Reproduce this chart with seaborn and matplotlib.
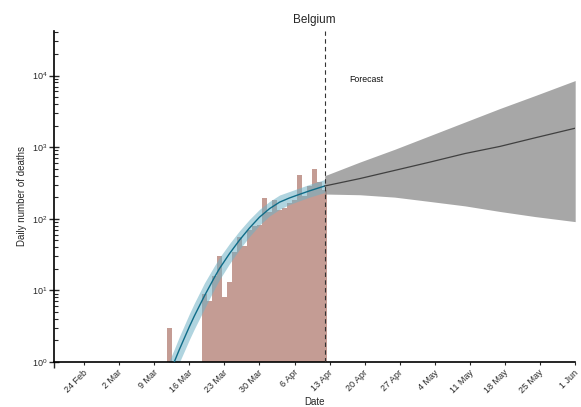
import numpy as np
import pandas as pd
import matplotlib
matplotlib.use("Agg")
import matplotlib.pyplot as plt
import matplotlib.dates as mdates
from matplotlib.ticker import LogLocator, NullFormatter
from matplotlib.transforms import ScaledTranslation
import seaborn as sns

# Reported daily deaths
death_dates = ["2020-03-12"] + list(pd.date_range("2020-03-19", "2020-04-12").strftime("%Y-%m-%d"))
deaths = [3,
          9, 7, 16, 30, 8, 13, 34, 56, 42, 69, 78, 82, 192,
          123, 183, 132, 140, 164, 185, 403, 205, 283, 496, 327, 254]

# Model fit (median and 95% band)
fit_dates = ["2020-03-11", "2020-03-12", "2020-03-13", "2020-03-14", "2020-03-15",
             "2020-03-16", "2020-03-17", "2020-03-18", "2020-03-19", "2020-03-20",
             "2020-03-21", "2020-03-22", "2020-03-24", "2020-03-26", "2020-03-28",
             "2020-03-30", "2020-04-01", "2020-04-03", "2020-04-05", "2020-04-07",
             "2020-04-09", "2020-04-12"]
fit_mid = [0.46, 0.68, 1.0, 1.48, 2.14, 3.09, 4.37, 6.03, 8.3, 11.2,
           15.1, 20.0, 32.4, 50.1, 74.1, 105, 138, 170, 195, 219, 245, 286]
fit_lo = [0.30, 0.45, 0.66, 0.98, 1.41, 2.04, 2.88, 3.98, 5.5, 7.6,
          10.4, 14.0, 23.4, 37.2, 56.2, 81.3, 109, 135, 158, 178, 200, 232]
fit_hi = [0.70, 1.03, 1.51, 2.24, 3.24, 4.68, 6.61, 9.12, 12.6, 16.6,
          21.9, 28.5, 44.7, 67.6, 97.7, 135, 174, 214, 240, 269, 302, 352]

# Forecast (median and 95% band)
fc_dates = ["2020-04-12", "2020-04-19", "2020-04-26", "2020-05-03",
            "2020-05-10", "2020-05-17", "2020-05-24", "2020-06-01"]
fc_mid = [286, 363, 473, 617, 813, 1023, 1349, 1837]
fc_lo = [221, 216, 200, 174, 151, 126, 107, 91]
fc_hi = [398, 617, 933, 1445, 2239, 3467, 5248, 8511]

tick_dates = ["2020-02-24", "2020-03-02", "2020-03-09", "2020-03-16", "2020-03-23",
              "2020-03-30", "2020-04-06", "2020-04-13", "2020-04-20", "2020-04-27",
              "2020-05-04", "2020-05-11", "2020-05-18", "2020-05-25", "2020-06-01"]
tick_labels = ["24 Feb", "2 Mar", "9 Mar", "16 Mar", "23 Mar", "30 Mar", "6 Apr",
               "13 Apr", "20 Apr", "27 Apr", "4 May", "11 May", "18 May", "25 May", "1 Jun"]

sns.set_theme(style="ticks")
plt.rcParams["font.family"] = ["Liberation Sans", "DejaVu Sans"]

obs = pd.DataFrame({"date": pd.to_datetime(death_dates), "deaths": deaths})
fit = pd.DataFrame({"date": pd.to_datetime(fit_dates), "mid": fit_mid,
                    "lo": fit_lo, "hi": fit_hi})
fc = pd.DataFrame({"date": pd.to_datetime(fc_dates), "mid": fc_mid,
                   "lo": fc_lo, "hi": fc_hi})

fig = plt.figure(figsize=(5.81, 4.07), dpi=100)
ax = fig.add_axes([0.093, 0.111, 0.897, 0.813])

ax.bar(obs["date"], obs["deaths"], width=1.0, align="center",
       color="#c49c94", linewidth=0, zorder=1)

ax.fill_between(fit["date"], fit["lo"], fit["hi"], color="#6fb1c5",
                alpha=0.55, linewidth=0, zorder=2)
sns.lineplot(data=fit, x="date", y="mid", color="#0f6c88", linewidth=1.0,
             ax=ax, zorder=3)

ax.fill_between(fc["date"], fc["lo"], fc["hi"], color="#8a8a8a",
                alpha=0.75, linewidth=0, zorder=2)
sns.lineplot(data=fc, x="date", y="mid", color="#404040", linewidth=0.9,
             ax=ax, zorder=3)

ax.axvline(pd.Timestamp("2020-04-12"), color="#333333", linestyle=(0, (4, 3)),
           linewidth=0.8, zorder=4)
ax.text(pd.Timestamp("2020-04-17"), 8.7e3, "Forecast", fontsize=6.3,
        color="#111111", va="center", ha="left")

ax.set_yscale("log")
ax.set_ylim(1, 4.2e4)
ax.set_xlim(pd.Timestamp("2020-02-18"), pd.Timestamp("2020-06-01"))

ax.yaxis.set_major_locator(LogLocator(base=10, numticks=10))
ax.yaxis.set_minor_locator(LogLocator(base=10, subs=np.arange(2, 10), numticks=20))
ax.yaxis.set_minor_formatter(NullFormatter())
ax.tick_params(axis="y", which="major", direction="inout", length=7, width=1.0,
               labelsize=6.5, pad=1)
ax.tick_params(axis="y", which="minor", direction="in", length=3, width=0.8)

ax.set_xticks(pd.to_datetime(tick_dates))
ax.set_xticklabels(tick_labels, rotation=45, ha="right", fontsize=6.5)
ax.tick_params(axis="x", which="major", direction="out", length=2.5, width=0.8,
               pad=2)
shift = ScaledTranslation(5 / 100, 0, fig.dpi_scale_trans)
for lab in ax.get_xticklabels():
    lab.set_transform(lab.get_transform() + shift)
ax.xaxis.set_minor_locator(mdates.DayLocator(interval=400))

for side in ("top", "right"):
    ax.spines[side].set_visible(False)
for side in ("left", "bottom"):
    ax.spines[side].set_linewidth(1.2)
    ax.spines[side].set_color("black")

ax.set_xlabel("Date", fontsize=7, labelpad=1)
ax.set_ylabel("Daily number of deaths", fontsize=7, labelpad=4)
ax.set_title("Belgium", fontsize=8.5, pad=6)

fig.savefig("out.png", dpi=100)
